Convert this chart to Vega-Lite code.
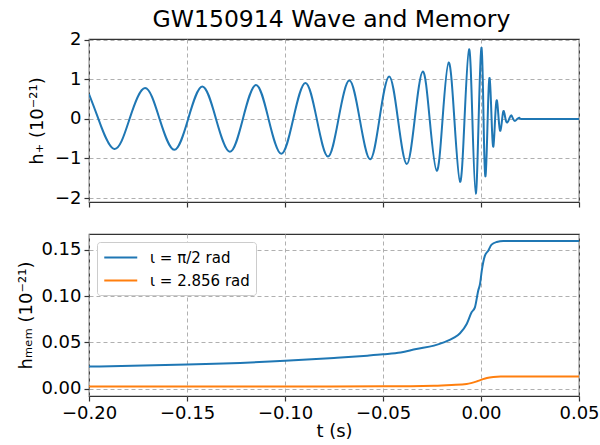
{
  "$schema": "https://vega.github.io/schema/vega-lite/v6.json",
  "title": {"text": "GW150914 Wave and Memory", "fontSize": 23.5, "font": "DejaVu Sans", "fontWeight": "normal", "anchor": "middle", "color": "#000", "offset": -1, "dx": 23},
  "padding": {"left": 17, "top": 7, "right": 0, "bottom": 2},
  "spacing": 24,
  "resolve": {"legend": {"color": "independent"}},
  "datasets": {
    "wave": [
      {"t": -0.2, "h": 0.63}, {"t": -0.1952, "h": 0}, {"t": -0.1871, "h": -0.76}, {"t": -0.1793, "h": 0},
      {"t": -0.1714, "h": 0.78}, {"t": -0.164, "h": 0}, {"t": -0.1565, "h": -0.78}, {"t": -0.1494, "h": 0},
      {"t": -0.1422, "h": 0.82}, {"t": -0.1352, "h": 0}, {"t": -0.1281, "h": -0.83}, {"t": -0.1215, "h": 0},
      {"t": -0.1148, "h": 0.86}, {"t": -0.1084, "h": 0}, {"t": -0.1019, "h": -0.88}, {"t": -0.0958, "h": 0},
      {"t": -0.0896, "h": 0.91}, {"t": -0.0838, "h": 0}, {"t": -0.0781, "h": -0.95}, {"t": -0.0727, "h": 0},
      {"t": -0.0672, "h": 0.97}, {"t": -0.0619, "h": 0}, {"t": -0.0566, "h": -1.02}, {"t": -0.0518, "h": 0},
      {"t": -0.0469, "h": 1.075}, {"t": -0.0424, "h": 0}, {"t": -0.0379, "h": -1.14}, {"t": -0.0338, "h": 0},
      {"t": -0.0297, "h": 1.2}, {"t": -0.0262, "h": 0}, {"t": -0.0226, "h": -1.31}, {"t": -0.0196, "h": 0},
      {"t": -0.0165, "h": 1.425}, {"t": -0.0136, "h": 0}, {"t": -0.0107, "h": -1.59}, {"t": -0.0084, "h": 0},
      {"t": -0.0061, "h": 1.76}, {"t": -0.0044, "h": 0}, {"t": -0.0027, "h": -1.89}, {"t": -0.0012, "h": 0},
      {"t": 0.0003, "h": 1.8}, {"t": 0.0013, "h": 0}, {"t": 0.0023, "h": -1.45}, {"t": 0.0034, "h": 0},
      {"t": 0.0044, "h": 1.03}, {"t": 0.0054, "h": 0}, {"t": 0.0063, "h": -0.7}, {"t": 0.0072, "h": 0},
      {"t": 0.0081, "h": 0.47}, {"t": 0.009, "h": 0}, {"t": 0.0099, "h": -0.3}, {"t": 0.0108, "h": 0},
      {"t": 0.0116, "h": 0.2}, {"t": 0.0125, "h": 0}, {"t": 0.0134, "h": -0.09}, {"t": 0.0144, "h": 0},
      {"t": 0.0154, "h": 0.09}, {"t": 0.0164, "h": 0}, {"t": 0.0174, "h": -0.05}, {"t": 0.0185, "h": 0},
      {"t": 0.0195, "h": 0.03}, {"t": 0.0205, "h": 0}, {"t": 0.025, "h": 0}, {"t": 0.03, "h": 0},
      {"t": 0.04, "h": 0}, {"t": 0.05, "h": 0}
    ],
    "mem": [
      {"series": "ι = π/2 rad", "t": -0.2, "h": 0.0238},
      {"series": "ι = π/2 rad", "t": -0.15, "h": 0.0259},
      {"series": "ι = π/2 rad", "t": -0.1, "h": 0.0300},
      {"series": "ι = π/2 rad", "t": -0.075, "h": 0.0331},
      {"series": "ι = π/2 rad", "t": -0.058, "h": 0.0356},
      {"series": "ι = π/2 rad", "t": -0.05, "h": 0.037},
      {"series": "ι = π/2 rad", "t": -0.041, "h": 0.039},
      {"series": "ι = π/2 rad", "t": -0.033, "h": 0.0428},
      {"series": "ι = π/2 rad", "t": -0.024, "h": 0.0464},
      {"series": "ι = π/2 rad", "t": -0.019, "h": 0.05},
      {"series": "ι = π/2 rad", "t": -0.014, "h": 0.0547},
      {"series": "ι = π/2 rad", "t": -0.0107, "h": 0.0598},
      {"series": "ι = π/2 rad", "t": -0.0073, "h": 0.0698},
      {"series": "ι = π/2 rad", "t": -0.0048, "h": 0.0824},
      {"series": "ι = π/2 rad", "t": -0.0031, "h": 0.0878},
      {"series": "ι = π/2 rad", "t": -0.0014, "h": 0.106},
      {"series": "ι = π/2 rad", "t": -0.0005, "h": 0.113},
      {"series": "ι = π/2 rad", "t": 0.0004, "h": 0.1274},
      {"series": "ι = π/2 rad", "t": 0.002, "h": 0.1436},
      {"series": "ι = π/2 rad", "t": 0.0037, "h": 0.149},
      {"series": "ι = π/2 rad", "t": 0.0054, "h": 0.1555},
      {"series": "ι = π/2 rad", "t": 0.008, "h": 0.1584},
      {"series": "ι = π/2 rad", "t": 0.0114, "h": 0.1595},
      {"series": "ι = π/2 rad", "t": 0.05, "h": 0.1595},
      {"series": "ι = 2.856 rad", "t": -0.2, "h": 0.0022},
      {"series": "ι = 2.856 rad", "t": -0.1, "h": 0.0023},
      {"series": "ι = 2.856 rad", "t": -0.05, "h": 0.0025},
      {"series": "ι = 2.856 rad", "t": -0.024, "h": 0.0032},
      {"series": "ι = 2.856 rad", "t": -0.015, "h": 0.004},
      {"series": "ι = 2.856 rad", "t": -0.0073, "h": 0.005},
      {"series": "ι = 2.856 rad", "t": -0.002, "h": 0.0079},
      {"series": "ι = 2.856 rad", "t": 0.0004, "h": 0.0097},
      {"series": "ι = 2.856 rad", "t": 0.003, "h": 0.0115},
      {"series": "ι = 2.856 rad", "t": 0.0063, "h": 0.0126},
      {"series": "ι = 2.856 rad", "t": 0.01, "h": 0.013},
      {"series": "ι = 2.856 rad", "t": 0.05, "h": 0.013}
    ]
  },
  "vconcat": [
    {
      "width": 490,
      "height": 163,
      "data": {"name": "wave"},
      "mark": {"type": "line", "interpolate": "natural", "strokeWidth": 2, "color": "#1f77b4", "clip": true},
      "encoding": {
        "x": {"field": "t", "type": "quantitative", "scale": {"domain": [-0.2, 0.05], "nice": false, "zero": false},
              "axis": {"labels": false, "title": null, "values": [-0.2, -0.15, -0.1, -0.05, 0, 0.05]}},
        "y": {"field": "h", "type": "quantitative", "scale": {"domain": [-2.1, 2.02], "nice": false, "zero": false},
              "axis": {"values": [-2, -1, 0, 1, 2], "format": "d", "title": "h₊ (10⁻²¹)", "titlePadding": 8}}
      }
    },
    {
      "width": 490,
      "height": 162,
      "data": {"name": "mem"},
      "mark": {"type": "line", "interpolate": "monotone", "strokeWidth": 2, "clip": true},
      "encoding": {
        "x": {"field": "t", "type": "quantitative", "scale": {"domain": [-0.2, 0.05], "nice": false, "zero": false},
              "axis": {"values": [-0.2, -0.15, -0.1, -0.05, 0, 0.05], "format": ".2f", "title": "t (s)", "titlePadding": 0}},
        "y": {"field": "h", "type": "quantitative", "scale": {"domain": [-0.008, 0.167], "nice": false, "zero": false},
              "axis": {"values": [0, 0.05, 0.1, 0.15], "format": ".2f", "title": "hₘₑₘ (10⁻²¹)", "titlePadding": 5}},
        "color": {"field": "series", "type": "nominal",
                  "scale": {"domain": ["ι = π/2 rad", "ι = 2.856 rad"], "range": ["#1f77b4", "#ff7f0e"]},
                  "legend": {"orient": "top-left", "title": null, "offset": 8}}
      }
    }
  ],
  "config": {
    "font": "DejaVu Sans",
    "view": {"stroke": "#333", "strokeWidth": 1.2},
    "axis": {
      "grid": true, "gridDash": [4, 3], "gridColor": "#b0b0b0", "gridOpacity": 1, "gridWidth": 1,
      "domain": false, "tickColor": "#333", "tickSize": 5, "tickWidth": 1.2,
      "labelFont": "DejaVu Sans", "labelFontSize": 18, "labelColor": "#000", "labelPadding": 3,
      "titleFont": "DejaVu Sans", "titleFontSize": 18, "titleFontWeight": "normal", "titleColor": "#000",
      "labelFlush": false
    },
    "legend": {
      "fillColor": "#fff", "strokeColor": "#ccc", "cornerRadius": 3, "padding": 6,
      "labelFont": "DejaVu Sans", "labelFontSize": 15, "labelColor": "#000", "labelOffset": 28,
      "symbolType": "M-1,0H3", "symbolSize": 272, "symbolStrokeWidth": 2, "rowPadding": 5
    }
  }
}
